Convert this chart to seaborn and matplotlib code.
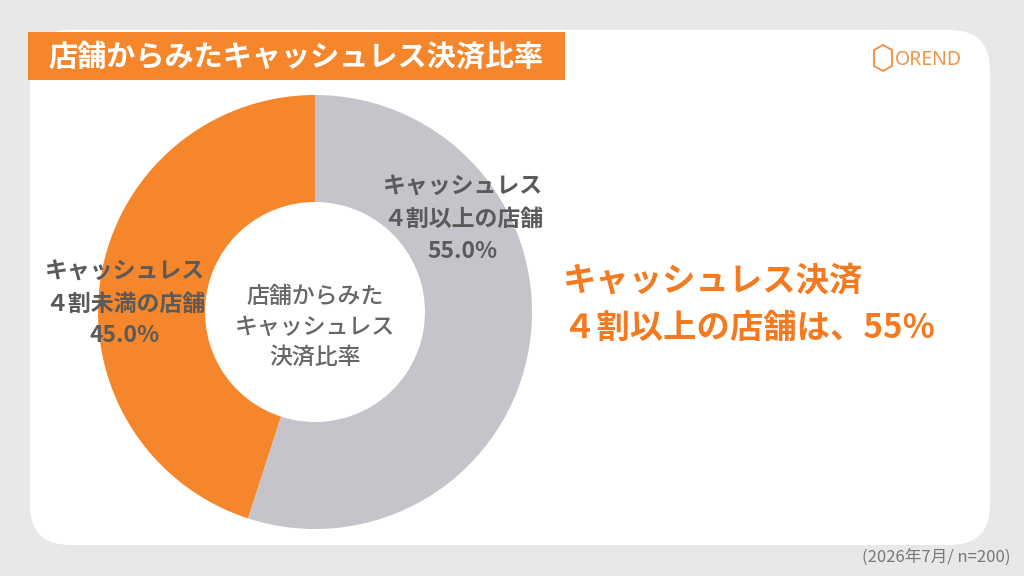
import matplotlib
matplotlib.use("Agg")
import matplotlib.pyplot as plt
from matplotlib.patches import FancyBboxPatch, Rectangle, Polygon
import seaborn as sns

# data
labels = ["キャッシュレス\n４割以上の店舗", "キャッシュレス\n４割未満の店舗"]
shares = [55.0, 45.0]
colors = ["#C5C4CA", "#F5862B"]

title = "店舗からみたキャッシュレス決済比率"
center_text = "店舗からみた\nキャッシュレス\n決済比率"
headline = "キャッシュレス決済\n４割以上の店舗は、55%"
note = "(2026年7月/ n=200)"

sns.set_theme(style="white")
plt.rcParams['font.family'] = ['Noto Sans CJK JP', 'DejaVu Sans']

W, H = 1024, 576
fig = plt.figure(figsize=(W / 100, H / 100), dpi=100)
fig.patch.set_facecolor("#E8E8E8")
ax = fig.add_axes([0, 0, 1, 1])


def Y(y):
    return H - y


# white panel
panel = FancyBboxPatch((60, Y(515)), 900, 455, boxstyle="round,pad=30,rounding_size=40",
                       facecolor="white", edgecolor="none")
ax.add_patch(panel)

# title bar
ax.add_patch(Rectangle((28, Y(80)), 537, 48, facecolor="#F5862B", edgecolor="none"))
ax.text(296, Y(57), title, color="white", fontsize=21, fontweight="bold",
        ha="center", va="center")

# logo
ax.add_patch(Polygon([[874, Y(50)], [883, Y(45)], [892, Y(50)], [892, Y(66)],
                      [883, Y(71)], [874, Y(66)]], closed=True, fill=False,
                     edgecolor="#F0944A", linewidth=1.4))
ax.text(895, Y(60), "OREND", color="#F0944A", fontsize=14, fontweight="medium",
        ha="left", va="center", family=['Noto Sans', 'DejaVu Sans'])

# donut
cx, cy, r = 315, Y(312), 217
ax.pie(shares, colors=colors, startangle=90, counterclock=False, center=(cx, cy), radius=r,
       wedgeprops=dict(width=r - 110, edgecolor="none"), frame=True)
ax.set_xlim(0, W)
ax.set_ylim(0, H)
ax.set_aspect("auto")
ax.axis("off")

label_pos = [(463, 219), (125, 304)]
for (lx, ly), lab, s in zip(label_pos, labels, shares):
    ax.text(lx, Y(ly), f"{lab}\n{s:.1f}%", color="#5A5A5A", fontsize=16.5,
            fontweight="bold", ha="center", va="center", linespacing=1.5)

ax.text(315, Y(327), center_text, color="#666666", fontsize=16.5, fontweight="medium",
        ha="center", va="center", linespacing=1.4)

# headline
ax.text(563, Y(305), headline, color="#F47A1F", fontsize=24, fontweight="bold",
        ha="left", va="center", linespacing=1.55)

ax.text(1010, Y(557), note, color="#777777", fontsize=12, ha="right", va="center")

fig.savefig("out.png", dpi=100, facecolor=fig.get_facecolor())
